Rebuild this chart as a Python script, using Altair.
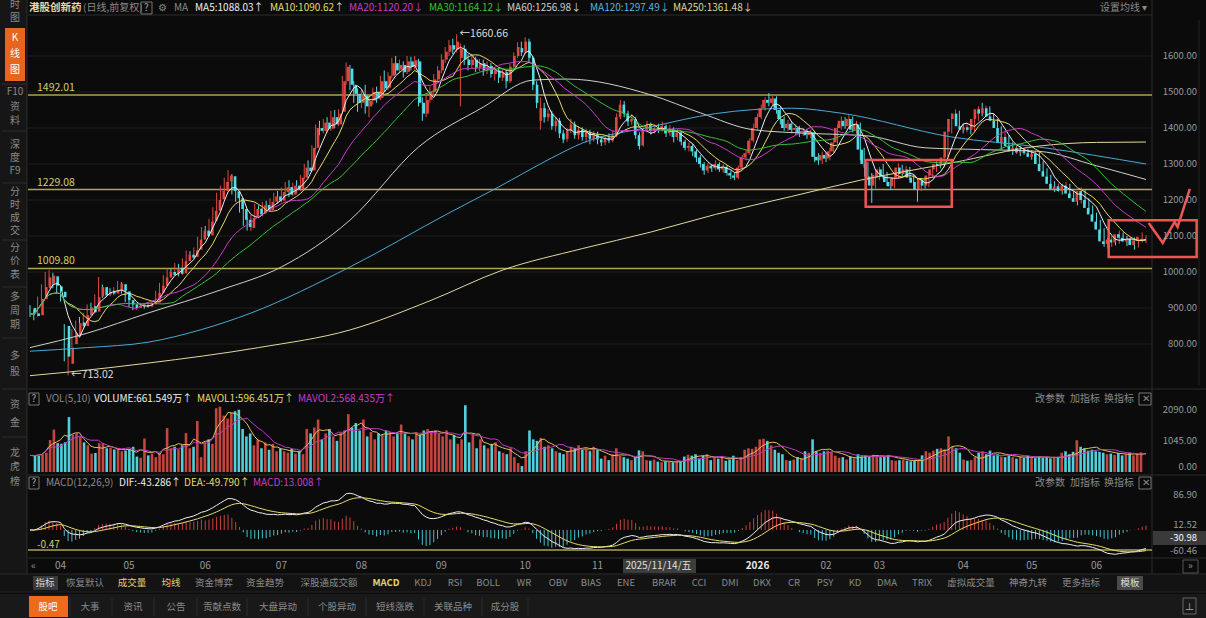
import altair as alt
import numpy as np
import pandas as pd

FONT = "Noto Sans CJK SC"
UP, DN = "#e0483f", "#52dde6"
VUP, VDN = "#c4463f", "#4fd0da"

# ---------------- daily candles ----------------
opens = [
 900, 885, 880, 925, 955, 968, 988, 960, 945, 850,
 745, 800, 825, 860, 850, 880, 905, 890, 932, 958,
 938, 946, 940, 950, 966, 946, 922, 910, 900, 906,
 908, 904, 910, 915, 942, 962, 986, 1000, 994, 1012,
 996, 1030, 1048, 1042, 1062, 1090, 1115, 1102, 1142, 1170,
 1202, 1225, 1252, 1266, 1224, 1205, 1175, 1145, 1122, 1150,
 1176, 1162, 1186, 1172, 1195, 1210, 1198, 1222, 1236, 1215,
 1240, 1230, 1262, 1290, 1282, 1345, 1400, 1392, 1415, 1398,
 1430, 1410, 1445, 1530, 1565, 1520, 1495, 1470, 1490, 1460,
 1476, 1500, 1484, 1530, 1512, 1545, 1580, 1562, 1575, 1556,
 1585, 1570, 1585, 1470, 1440, 1478, 1500, 1535, 1560, 1590,
 1612, 1630, 1618, 1595, 1620, 1590, 1575, 1590, 1568, 1580,
 1560, 1572, 1550, 1560, 1540, 1555, 1530, 1570, 1600, 1622,
 1612, 1640, 1595, 1520, 1420, 1455, 1430, 1440, 1405, 1420,
 1385, 1370, 1392, 1410, 1380, 1395, 1375, 1388, 1370, 1382,
 1368, 1360, 1372, 1365, 1380, 1430, 1465, 1440, 1418, 1425,
 1380, 1352, 1395, 1408, 1392, 1400, 1396, 1405, 1386, 1398,
 1375, 1388, 1362, 1345, 1350, 1335, 1318, 1300, 1282, 1295,
 1288, 1300, 1285, 1292, 1275, 1268, 1262, 1290, 1318, 1330,
 1365, 1400, 1430, 1455, 1478, 1470, 1482, 1450, 1425, 1400,
 1412, 1395, 1400, 1385, 1392, 1380, 1388, 1320, 1310, 1325,
 1315, 1335, 1360, 1400, 1420, 1405, 1425, 1395, 1410, 1340,
 1300, 1265, 1240, 1262, 1285, 1265, 1250, 1238, 1262, 1290,
 1272, 1285, 1262, 1250, 1230, 1256, 1240, 1268, 1285, 1300,
 1296, 1318, 1390, 1425, 1440, 1405, 1395, 1402, 1395, 1425,
 1452, 1440, 1455, 1432, 1420, 1400, 1360, 1375, 1350, 1335,
 1345, 1332, 1338, 1330, 1320, 1328, 1300, 1280, 1265, 1245,
 1230, 1238, 1225, 1240, 1218, 1205, 1195, 1225, 1200, 1178,
 1160, 1140, 1118, 1085, 1078, 1090, 1082, 1105, 1095, 1085,
 1092, 1075, 1088, 1086,
]
highs = [
 908, 896, 932, 966, 1000, 1005, 998, 970, 952, 855,
 800, 842, 865, 875, 886, 910, 915, 938, 986, 965,
 952, 955, 958, 975, 972, 950, 930, 916, 912, 914,
 912, 916, 920, 948, 970, 992, 1010, 1008, 1025, 1022,
 1038, 1060, 1058, 1068, 1098, 1125, 1128, 1148, 1180, 1220,
 1240, 1262, 1283, 1272, 1245, 1212, 1180, 1150, 1158, 1190,
 1185, 1195, 1198, 1205, 1220, 1225, 1235, 1250, 1255, 1248,
 1255, 1270, 1300, 1310, 1352, 1410, 1420, 1425, 1430, 1448,
 1450, 1452, 1545, 1582, 1575, 1530, 1510, 1505, 1520, 1490,
 1512, 1515, 1545, 1560, 1555, 1595, 1600, 1590, 1585, 1600,
 1598, 1600, 1592, 1485, 1490, 1515, 1550, 1572, 1605, 1625,
 1645, 1648, 1660.66, 1635, 1630, 1605, 1600, 1598, 1592, 1590,
 1585, 1580, 1570, 1568, 1565, 1562, 1578, 1610, 1638, 1640,
 1652, 1648, 1600, 1530, 1485, 1470, 1452, 1448, 1430, 1428,
 1395, 1400, 1425, 1418, 1405, 1402, 1398, 1395, 1392, 1390,
 1378, 1380, 1385, 1392, 1440, 1478, 1475, 1448, 1438, 1430,
 1388, 1402, 1420, 1415, 1410, 1412, 1418, 1410, 1408, 1402,
 1395, 1392, 1368, 1360, 1356, 1340, 1325, 1305, 1302, 1300,
 1310, 1305, 1300, 1296, 1282, 1275, 1296, 1325, 1340, 1372,
 1412, 1440, 1465, 1485, 1497, 1492, 1488, 1458, 1432, 1422,
 1418, 1410, 1406, 1400, 1398, 1396, 1392, 1330, 1335, 1332,
 1345, 1372, 1410, 1432, 1430, 1435, 1432, 1420, 1415, 1345,
 1305, 1275, 1282, 1292, 1300, 1278, 1260, 1270, 1302, 1298,
 1295, 1292, 1270, 1258, 1262, 1265, 1275, 1295, 1310, 1312,
 1325, 1398, 1440, 1452, 1448, 1412, 1410, 1408, 1432, 1460,
 1470, 1462, 1460, 1440, 1425, 1405, 1390, 1380, 1360, 1352,
 1350, 1345, 1342, 1338, 1335, 1335, 1308, 1288, 1270, 1252,
 1246, 1245, 1250, 1245, 1225, 1212, 1235, 1230, 1205, 1185,
 1165, 1145, 1122, 1095, 1100, 1098, 1115, 1110, 1100, 1098,
 1096, 1094, 1110, 1102,
]
lows = [
 875, 866, 876, 920, 950, 960, 955, 940, 918, 752,
 713.02, 790, 818, 842, 845, 872, 880, 885, 928, 928,
 930, 934, 935, 945, 940, 916, 902, 894, 895, 900,
 898, 900, 906, 912, 938, 958, 978, 984, 990, 988,
 992, 1025, 1032, 1036, 1058, 1085, 1094, 1098, 1136, 1165,
 1195, 1215, 1240, 1215, 1195, 1165, 1128, 1115, 1114, 1145,
 1150, 1155, 1165, 1168, 1188, 1190, 1194, 1215, 1208, 1210,
 1220, 1225, 1258, 1270, 1278, 1340, 1380, 1385, 1388, 1392,
 1400, 1405, 1440, 1520, 1505, 1470, 1445, 1455, 1440, 1430,
 1465, 1470, 1478, 1500, 1505, 1538, 1548, 1552, 1540, 1550,
 1560, 1562, 1460, 1420, 1430, 1470, 1495, 1528, 1552, 1580,
 1600, 1605, 1610, 1460, 1575, 1560, 1565, 1555, 1558, 1545,
 1550, 1540, 1532, 1525, 1530, 1510, 1525, 1565, 1595, 1600,
 1605, 1580, 1505, 1455, 1395, 1415, 1418, 1395, 1390, 1372,
 1358, 1362, 1385, 1370, 1368, 1365, 1360, 1355, 1362, 1355,
 1350, 1352, 1358, 1360, 1375, 1425, 1430, 1405, 1408, 1370,
 1340, 1348, 1388, 1382, 1385, 1386, 1390, 1375, 1378, 1360,
 1366, 1352, 1338, 1335, 1322, 1305, 1290, 1270, 1275, 1278,
 1282, 1278, 1276, 1268, 1258, 1255, 1258, 1285, 1310, 1325,
 1360, 1395, 1425, 1448, 1460, 1462, 1440, 1410, 1392, 1392,
 1385, 1380, 1375, 1378, 1370, 1372, 1305, 1298, 1300, 1305,
 1310, 1330, 1355, 1395, 1398, 1400, 1388, 1385, 1310, 1290,
 1255, 1192, 1232, 1255, 1258, 1240, 1228, 1232, 1258, 1265,
 1268, 1255, 1240, 1195, 1225, 1232, 1236, 1262, 1278, 1288,
 1290, 1312, 1385, 1410, 1398, 1385, 1388, 1382, 1390, 1420,
 1432, 1435, 1425, 1412, 1392, 1340, 1350, 1340, 1325, 1328,
 1322, 1325, 1320, 1312, 1310, 1290, 1272, 1255, 1235, 1222,
 1222, 1215, 1218, 1208, 1195, 1185, 1190, 1190, 1168, 1150,
 1130, 1108, 1070, 1065, 1070, 1074, 1078, 1085, 1072, 1078,
 1062, 1068, 1082, 1080,
]
closes = [
 885, 878, 925, 958, 985, 990, 962, 948, 930, 765,
 790, 830, 858, 850, 880, 902, 888, 930, 958, 935,
 945, 940, 950, 968, 948, 922, 910, 900, 906, 908,
 904, 910, 914, 942, 962, 985, 1000, 992, 1010, 995,
 1030, 1048, 1040, 1060, 1090, 1115, 1100, 1140, 1170, 1200,
 1225, 1250, 1268, 1225, 1205, 1175, 1145, 1125, 1150, 1175,
 1160, 1185, 1172, 1195, 1210, 1198, 1222, 1235, 1215, 1240,
 1228, 1262, 1290, 1280, 1345, 1400, 1392, 1415, 1398, 1430,
 1410, 1440, 1530, 1570, 1520, 1495, 1470, 1490, 1460, 1475,
 1500, 1482, 1530, 1510, 1545, 1580, 1560, 1575, 1555, 1585,
 1570, 1588, 1470, 1440, 1478, 1500, 1535, 1560, 1590, 1612,
 1630, 1618, 1640, 1620, 1590, 1575, 1590, 1568, 1580, 1560,
 1572, 1550, 1560, 1540, 1555, 1530, 1570, 1600, 1625, 1610,
 1640, 1595, 1520, 1470, 1455, 1430, 1440, 1405, 1420, 1385,
 1368, 1392, 1410, 1380, 1395, 1375, 1388, 1370, 1382, 1368,
 1360, 1372, 1365, 1380, 1430, 1465, 1440, 1418, 1425, 1380,
 1350, 1395, 1408, 1392, 1400, 1395, 1405, 1385, 1398, 1375,
 1388, 1362, 1345, 1350, 1335, 1318, 1300, 1282, 1295, 1288,
 1300, 1285, 1292, 1275, 1268, 1262, 1290, 1318, 1330, 1365,
 1400, 1430, 1455, 1478, 1470, 1482, 1450, 1425, 1400, 1412,
 1395, 1400, 1385, 1392, 1380, 1388, 1320, 1310, 1325, 1315,
 1335, 1360, 1400, 1420, 1405, 1425, 1395, 1410, 1340, 1300,
 1265, 1240, 1270, 1285, 1265, 1250, 1238, 1262, 1290, 1272,
 1285, 1262, 1248, 1230, 1256, 1240, 1268, 1285, 1300, 1296,
 1318, 1390, 1425, 1440, 1405, 1395, 1402, 1395, 1425, 1452,
 1440, 1455, 1432, 1420, 1400, 1360, 1375, 1350, 1335, 1345,
 1332, 1338, 1330, 1320, 1328, 1300, 1280, 1265, 1245, 1230,
 1238, 1225, 1240, 1218, 1205, 1195, 1225, 1200, 1178, 1160,
 1140, 1118, 1085, 1078, 1090, 1082, 1105, 1095, 1085, 1092,
 1075, 1088, 1098, 1092,
]
volumes = [
 560, 540, 600, 650, 1080, 1430, 970, 950, 1000, 1850,
 1250, 1300, 1200, 1000, 900, 620, 640, 970, 980, 800,
 820, 760, 800, 700, 720, 760, 850, 520, 480, 1130,
 560, 620, 500, 640, 600, 1480, 800, 850, 760, 900,
 1310, 800, 850, 1720, 500, 1000, 1100, 950, 2150, 2200,
 1900, 1800, 2000, 2050, 2100, 1450, 1200, 1300, 900, 1100,
 800, 1000, 750, 950, 700, 800, 700, 650, 780, 620,
 700, 600, 1450, 1300, 1500, 1770, 1100, 1300, 1450, 1200,
 1050, 1300, 1400, 1950, 1500, 1650, 1400, 1770, 1200, 1350,
 1100, 1300, 1250, 1400, 1350, 1200, 1300, 1600, 1300, 1200,
 1100, 1350, 1250, 1400, 1450, 1350, 1400, 1300, 1200, 1400,
 1100, 1250, 950, 1100, 2250, 1000, 1250, 800, 1100, 900,
 800, 950, 1000, 700, 650, 600, 800, 500, 300, 200,
 700, 1400, 1100, 1050, 1150, 850, 900, 800, 700, 650,
 600, 700, 850, 800, 900, 750, 800, 700, 850, 750,
 450, 550, 400, 600, 800, 550, 500, 450, 400, 480,
 730, 700, 400, 380, 420, 350, 330, 360, 340, 330,
 360, 350, 520, 580, 550, 600, 450, 550, 600, 400,
 500, 450, 500, 380, 420, 550, 400, 500, 750, 800,
 780, 850, 1100, 1120, 1050, 900, 750, 650, 600, 400,
 380, 420, 500, 450, 700, 650, 1100, 700, 650, 700,
 720, 680, 550, 480, 500, 420, 520, 460, 600, 520,
 560, 520, 580, 540, 500, 520, 560, 400, 380, 400,
 420, 380, 360, 380, 400, 560, 700, 650, 720, 780,
 800, 760, 1200, 850, 800, 650, 420, 380, 400, 500,
 650, 700, 600, 720, 560, 600, 520, 500, 560, 500,
 450, 520, 480, 550, 500, 470, 520, 480, 500, 460,
 520, 500, 650, 700, 600, 680, 1070, 850, 800, 720,
 750, 700, 680, 650, 600, 620, 580, 640, 560, 600,
 650, 560, 620, 662,
]

# long moving averages as drawn (their history starts before the window)
ma60_i = [0, 15, 31, 50, 66, 84, 102, 119, 132, 141, 163, 176, 190, 205, 220, 235, 250, 265, 280, 293]
ma60_v = [790, 830, 886, 950, 1014, 1144, 1347, 1458, 1533, 1536, 1492, 1442, 1395, 1385, 1378, 1345, 1340, 1335, 1295, 1257]
ma120_i = [0, 15, 31, 45, 58, 84, 110, 123, 137, 145, 163, 180, 200, 213, 242, 265, 293]
ma120_v = [780, 790, 805, 840, 886, 1014, 1164, 1236, 1317, 1358, 1403, 1440, 1455, 1441, 1375, 1347, 1300]
ma250_i = [0, 10, 31, 60, 84, 105, 124, 145, 163, 180, 200, 218, 242, 265, 280, 293]
ma250_v = [712, 722, 747, 790, 839, 920, 1005, 1065, 1111, 1160, 1210, 1255, 1303, 1350, 1360, 1361]

month_idx = [8, 26, 46, 66, 87, 108, 130, 149, 209, 223, 245, 263, 280]
month_txt = ["04", "05", "06", "07", "08", "09", "10", "11", "02", "03", "04", "05", "06"]
year_idx, year_txt = 191, "2026"
cursor_idx, cursor_txt = 165, "2025/11/14/五"

level_lines = [1492.01, 1229.08, 1009.80]
price_ticks = [1600, 1500, 1400, 1300, 1200, 1100, 1000, 900, 800]
vol_ticks = [2090.0, 1045.0]
macd_ticks = [86.90, 12.52]
macd_low = -60.46
macd_now = -30.98
macd_ref = -50.0

# hand-drawn annotations (index, price)
box_i0 = [219.4, 283.2]
box_i1 = [242.0, 306.3]
box_p0 = [1311, 1144]
box_p1 = [1181, 1042]
pen_i = [293.7, 297.4, 300.5, 301.3, 304.5]
pen_p = [1136, 1081, 1139, 1125, 1231]

# ---------------- derived ----------------
N = len(closes)
df = pd.DataFrame({"i": range(N), "o": opens, "h": highs, "l": lows, "c": closes, "v": volumes}).astype(float)
df["hi"] = df[["h", "o", "c"]].max(axis=1)
df["lo"] = df[["l", "o", "c"]].min(axis=1)
df["bt"] = df[["o", "c"]].max(axis=1)
df["bb"] = df[["o", "c"]].min(axis=1)
thin = (df["bt"] - df["bb"]) < 3
df.loc[thin, "bt"] += 1.5
df.loc[thin, "bb"] -= 1.5
up = df["c"] >= df["o"]
df["col"] = np.where(up, UP, DN)
df["vcol"] = np.where(up, VUP, VDN)
df["z"] = 0.0
e12 = df["c"].ewm(span=12, adjust=False).mean()
e26 = df["c"].ewm(span=26, adjust=False).mean()
df["dif"] = e12 - e26
df["dea"] = df["dif"].ewm(span=9, adjust=False).mean()
df["mh"] = 2 * (df["dif"] - df["dea"])
df["hcol"] = np.where(df["mh"] >= 0, "#c8433e", "#45c3cf")
df["mv5"] = df["v"].rolling(5, min_periods=1).mean()
df["mv10"] = df["v"].rolling(10, min_periods=1).mean()

ma_cols = {5: "#eeeeee", 10: "#e6dc6a", 20: "#c83cc8", 30: "#38c038"}
ma_short = pd.concat([pd.DataFrame({"i": df["i"], "val": df["c"].rolling(w, min_periods=1).mean(),
                                    "k": f"ma{w}", "cc": col}) for w, col in ma_cols.items()])
ma_long = pd.concat([
    pd.DataFrame({"i": ma60_i, "val": ma60_v, "k": "ma60", "cc": "#cfcfcf"}),
    pd.DataFrame({"i": ma120_i, "val": ma120_v, "k": "ma120", "cc": "#4aa9d6"}),
    pd.DataFrame({"i": ma250_i, "val": ma250_v, "k": "ma250", "cc": "#e2d9a0"}),
])
vol_ma = pd.concat([pd.DataFrame({"i": df["i"], "val": df["mv5"], "k": "a", "cc": "#e0c060"}),
                    pd.DataFrame({"i": df["i"], "val": df["mv10"], "k": "b", "cc": "#c03cc0"})])
macd_lines = pd.concat([pd.DataFrame({"i": df["i"], "val": df["dif"], "k": "dif", "cc": "#eeeeee"}),
                        pd.DataFrame({"i": df["i"], "val": df["dea"], "k": "dea", "cc": "#e6dc6a"})])

# ---------------- scales ----------------
xs = alt.Scale(domain=[0, N - 1], range=[30, 1146], nice=False, zero=False)
ps = alt.Scale(domain=[700, 1700], range=[380, 20], nice=False, zero=False)
vs = alt.Scale(domain=[0, 2090], range=[472, 410], nice=False, zero=False)
ms = alt.Scale(domain=[-60.46, 86.90], range=[554.2, 495.1], nice=False, zero=False)
X = alt.X("i:Q", scale=xs, axis=None)


def Y(field, sc):
    return alt.Y(field, scale=sc, axis=None)


PX = dict(x=alt.X("x:Q", scale=None, axis=None), y=alt.Y("y:Q", scale=None, axis=None))


def texts(rows, size=10, weight="normal", align="left"):
    d = pd.DataFrame(rows, columns=["t", "x", "y", "c"])
    return alt.Chart(d).mark_text(font=FONT, fontSize=size, fontWeight=weight, align=align,
                                  baseline="middle").encode(text="t:N", color=alt.Color("c:N", scale=None), **PX)


def rects(rows):
    d = pd.DataFrame(rows, columns=["x", "x2", "y", "y2", "c"])
    return alt.Chart(d).mark_rect().encode(x2="x2:Q", y2="y2:Q", color=alt.Color("c:N", scale=None), **PX)


def outlines(rows, sw=1):
    d = pd.DataFrame(rows, columns=["x", "x2", "y", "y2", "c"])
    return alt.Chart(d).mark_rect(fillOpacity=0, strokeWidth=sw).encode(
        x2="x2:Q", y2="y2:Q", stroke=alt.Stroke("c:N", scale=None), **PX)


def rules(rows, sw=1):
    d = pd.DataFrame(rows, columns=["x", "x2", "y", "y2", "c"])
    return alt.Chart(d).mark_rule(strokeWidth=sw).encode(
        x2="x2:Q", y2="y2:Q", color=alt.Color("c:N", scale=None), **PX)


layers = []
SEP = "#2c2c2c"
# backgrounds
layers.append(rects([
    (0, 27, 0, 574, "#161616"),
    (5, 25, 28, 81, "#e8651e"),
    (0, 1206, 574, 592, "#131313"),
    (33, 58, 576, 590, "#3a3a3a"),
    (1117, 1143, 576, 590, "#4a4a4a"),
    (0, 1206, 594, 618, "#191919"),
    (29, 68, 596, 617, "#ee6a1f"),
    (623, 696, 559, 573, "#3c3c3c"),
    (1153, 1206, 531, 545, "#3a3a3a"),
]))
# faint grid
grid = pd.DataFrame({"p": price_ticks})
layers.append(alt.Chart(grid).mark_rule(color="#1f1f1f", strokeWidth=1).encode(
    y=Y("p:Q", ps), x=alt.value(28), x2=alt.value(1152)))
# separators
layers.append(rules([
    (28, 1152, 15, 15, SEP), (1152, 1152, 0, 574, SEP), (27, 27, 0, 574, SEP),
    (28, 1206, 389, 389, SEP), (28, 1206, 475, 475, SEP), (28, 1206, 558, 558, SEP),
    (0, 1206, 574, 574, SEP), (0, 1206, 592, 592, "#222222"),
    (1199, 1199, 20, 385, "#232323"),
    (2, 27, 84, 84, SEP), (2, 27, 131, 131, SEP), (2, 27, 183, 183, SEP), (2, 27, 240, 240, SEP),
    (2, 27, 287, 287, SEP), (2, 27, 338, 338, SEP), (2, 27, 389, 389, SEP), (2, 27, 437, 437, SEP),
    (70, 70, 598, 616, SEP), (112, 112, 598, 616, SEP), (154, 154, 598, 616, SEP),
    (197, 197, 598, 616, SEP), (247, 247, 598, 616, SEP), (308, 308, 598, 616, SEP),
    (366, 366, 598, 616, SEP), (424, 424, 598, 616, SEP), (482, 482, 598, 616, SEP),
    (528, 528, 598, 616, SEP),
]))

# price level lines
lv = pd.DataFrame({"p": level_lines, "t": [f"{v:.2f}" for v in level_lines]})
layers.append(alt.Chart(lv).mark_rule(color="#aea452", strokeWidth=1.5).encode(
    y=Y("p:Q", ps), x=alt.value(28), x2=alt.value(1152)))
layers.append(alt.Chart(lv).mark_text(font=FONT, fontSize=10.5, align="left", dy=-7, color="#d6cb6c").encode(
    y=Y("p:Q", ps), x=alt.value(37), text="t:N"))

# candles
layers.append(alt.Chart(df).mark_rule(strokeWidth=1).encode(
    x=X, y=Y("lo:Q", ps), y2="hi:Q", color=alt.Color("col:N", scale=None)))
layers.append(alt.Chart(df).mark_bar(size=2.6).encode(
    x=X, y=Y("bb:Q", ps), y2="bt:Q", color=alt.Color("col:N", scale=None)))
# moving averages
layers.append(alt.Chart(ma_long).mark_line(strokeWidth=1, interpolate="monotone").encode(
    x=X, y=Y("val:Q", ps), detail="k:N", color=alt.Color("cc:N", scale=None)))
layers.append(alt.Chart(ma_short).mark_line(strokeWidth=1).encode(
    x=X, y=Y("val:Q", ps), detail="k:N", color=alt.Color("cc:N", scale=None)))

# extremes labels
imax, imin = int(df["h"].idxmax()), int(df["l"].idxmin())
ext = pd.DataFrame({"i": [imax, imin], "p": [df["h"][imax], df["l"][imin]],
                    "t": [f"←{df['h'][imax]:.2f}", f"←{df['l'][imin]:.2f}"]})
layers.append(alt.Chart(ext).mark_text(font=FONT, fontSize=10.5, align="left", dx=3, color="#dddddd").encode(
    x=X, y=Y("p:Q", ps), text="t:N"))

# annotations
bx = pd.DataFrame({"i0": box_i0, "i1": box_i1, "p0": box_p0, "p1": box_p1})
layers.append(alt.Chart(bx).mark_rect(fillOpacity=0, stroke="#ef5555", strokeWidth=2.5).encode(
    x=alt.X("i0:Q", scale=xs, axis=None), x2="i1:Q", y=Y("p0:Q", ps), y2="p1:Q"))
pen = pd.DataFrame({"i": pen_i, "p": pen_p, "o": range(len(pen_i))})
layers.append(alt.Chart(pen).mark_line(color="#ef5555", strokeWidth=2.5).encode(
    x=alt.X("i:Q", scale=xs, axis=None), y=Y("p:Q", ps), order="o:Q"))

# volume
layers.append(alt.Chart(df).mark_bar(size=2.6).encode(
    x=X, y=Y("v:Q", vs), y2="z:Q", color=alt.Color("vcol:N", scale=None)))
layers.append(alt.Chart(vol_ma).mark_line(strokeWidth=1).encode(
    x=X, y=Y("val:Q", vs), detail="k:N", color=alt.Color("cc:N", scale=None)))

# MACD
layers.append(alt.Chart(pd.DataFrame({"m": [macd_ref]})).mark_rule(color="#aea452", strokeWidth=1.5).encode(
    y=Y("m:Q", ms), x=alt.value(28), x2=alt.value(1152)))
layers.append(alt.Chart(df).mark_rule(strokeWidth=1).encode(
    x=X, y=Y("mh:Q", ms), y2="z:Q", color=alt.Color("hcol:N", scale=None)))
layers.append(alt.Chart(macd_lines).mark_line(strokeWidth=1).encode(
    x=X, y=Y("val:Q", ms), detail="k:N", color=alt.Color("cc:N", scale=None)))

# right axis labels
pt = pd.DataFrame({"p": price_ticks, "t": [f"{v:.2f}" for v in price_ticks]})
layers.append(alt.Chart(pt).mark_text(font=FONT, fontSize=9.5, align="right", color="#9a9a9a").encode(
    y=Y("p:Q", ps), x=alt.value(1197), text="t:N"))
vt = pd.DataFrame({"p": vol_ticks, "t": [f"{v:.2f}" for v in vol_ticks]})
layers.append(alt.Chart(vt).mark_text(font=FONT, fontSize=9.5, align="right", color="#9a9a9a").encode(
    y=Y("p:Q", vs), x=alt.value(1197), text="t:N"))
layers.append(alt.Chart(pd.DataFrame({"p": [0.0], "t": ["0.00"]})).mark_text(
    font=FONT, fontSize=9.5, align="right", dy=-5, color="#9a9a9a").encode(
    y=Y("p:Q", vs), x=alt.value(1197), text="t:N"))
mt = pd.DataFrame({"p": macd_ticks, "t": [f"{v:.2f}" for v in macd_ticks]})
layers.append(alt.Chart(mt).mark_text(font=FONT, fontSize=9.5, align="right", color="#9a9a9a").encode(
    y=Y("p:Q", ms), x=alt.value(1197), text="t:N"))
layers.append(alt.Chart(pd.DataFrame({"p": [macd_low], "t": [f"{macd_low:.2f}"]})).mark_text(
    font=FONT, fontSize=9.5, align="right", dy=-3, color="#9a9a9a").encode(
    y=Y("p:Q", ms), x=alt.value(1197), text="t:N"))
layers.append(alt.Chart(pd.DataFrame({"p": [macd_now], "t": [f"{macd_now:.2f}"]})).mark_text(
    font=FONT, fontSize=9.5, align="right", dy=-4, color="#ffffff").encode(
    y=Y("p:Q", ms), x=alt.value(1197), text="t:N"))

# x axis (months)
mo = pd.DataFrame({"i": month_idx, "t": month_txt})
layers.append(alt.Chart(mo).mark_text(font=FONT, fontSize=10, align="center", color="#9a9a9a").encode(
    x=X, y=alt.value(566), text="t:N"))
layers.append(alt.Chart(pd.DataFrame({"i": [year_idx], "t": [year_txt]})).mark_text(
    font=FONT, fontSize=10, fontWeight="bold", align="center", color="#e8e8e8").encode(
    x=X, y=alt.value(566), text="t:N"))
layers.append(alt.Chart(pd.DataFrame({"i": [cursor_idx], "t": [cursor_txt]})).mark_text(
    font=FONT, fontSize=10, align="center", color="#e0e0e0").encode(
    x=X, y=alt.value(566), text="t:N"))

# ---------------- UI chrome text ----------------
G = "#8a8a8a"
layers.append(texts([("港股创新药", 29, 8, "#e6d9a2")], size=10.5, weight="bold"))
layers.append(texts([
    ("(日线,前复权)", 83, 8, G), ("?", 144, 8, "#aaaaaa"), ("⚙", 158, 8, G), ("MA", 174, 8, G),
    ("MA5:1088.03↑", 195, 8, "#eeeeee"), ("MA10:1090.62↑", 270, 8, "#e6dc6a"),
    ("MA20:1120.20↓", 349, 8, "#c83cc8"), ("MA30:1164.12↓", 429, 8, "#38c038"),
    ("MA60:1256.98↓", 507, 8, "#cfcfcf"), ("MA120:1297.49↓", 590, 8, "#58b4dc"),
    ("MA250:1361.48↓", 673, 8, "#ddd59c"), ("设置均线 ▾", 1100, 8, G),
    ("?", 31.5, 399, "#aaaaaa"), ("VOL(5,10)", 46, 399, G), ("VOLUME:661.549万↑", 94, 399, "#eeeeee"),
    ("MAVOL1:596.451万↑", 197, 399, "#e6dc6a"), ("MAVOL2:568.435万↑", 298, 399, "#c83cc8"),
    ("改参数", 1035, 399, G), ("加指标", 1070, 399, G), ("换指标", 1104, 399, G), ("✕", 1142, 399, G),
    ("?", 31.5, 483, "#aaaaaa"), ("MACD(12,26,9)", 46, 483, G), ("DIF:-43.286↑", 119, 483, "#eeeeee"),
    ("DEA:-49.790↑", 184, 483, "#e6dc6a"), ("MACD:13.008↑", 253, 483, "#c83cc8"),
    ("改参数", 1035, 483, G), ("加指标", 1070, 483, G), ("换指标", 1104, 483, G), ("✕", 1142, 483, G),
    ("-0.47", 37, 545, "#d6cb6c"), ("«", 31, 566, G), ("»", 1188, 566, G),
], size=10))
layers.append(outlines([
    (141, 152, 2, 14, "#777777"), (29, 39, 393, 405, "#777777"), (29, 39, 477, 489, "#777777"),
    (1139, 1151, 393, 405, "#777777"), (1139, 1151, 477, 489, "#777777"), (1183, 1198, 560, 573, "#555555"),
    (1183, 1196, 598, 614, "#666666"),
]))
# sidebar
side = [("时", 5, G), ("图", 18, G), ("K", 38, "#ffffff"), ("线", 54, "#ffffff"), ("图", 70, "#ffffff"),
        ("F10", 92, G), ("资", 107, G), ("料", 121, G), ("深", 145, G), ("度", 158, G), ("F9", 171, G),
        ("分", 192, G), ("时", 205, G), ("成", 218, G), ("交", 231, G), ("分", 248, G), ("价", 261, G),
        ("表", 275, G), ("多", 297, G), ("周", 311, G), ("期", 325, G), ("多", 356, G), ("股", 372, G),
        ("资", 405, G), ("金", 423, G), ("龙", 453, G), ("虎", 467, G), ("榜", 482, G)]
layers.append(texts([(t, 15, y, c) for t, y, c in side], size=10, align="center"))
# indicator buttons
Y1 = "#e6d270"
btn = [("指标", 45, "#d8d8d8"), ("恢复默认", 85, G), ("成交量", 132, Y1), ("均线", 171, Y1),
       ("资金博弈", 214, G), ("资金趋势", 265, G), ("深股通成交额", 329, G), ("KDJ", 423, G),
       ("RSI", 455, G), ("BOLL", 488, G), ("WR", 524, G), ("OBV", 558, G), ("BIAS", 591, G), ("ENE", 626, G),
       ("BRAR", 664, G), ("CCI", 699, G), ("DMI", 730, G), ("DKX", 762, G), ("CR", 794, G), ("PSY", 825, G),
       ("KD", 855, G), ("DMA", 887, G), ("TRIX", 922, G), ("虚拟成交量", 971, G), ("神奇九转", 1028, G),
       ("更多指标", 1081, G), ("模板", 1130, "#dddddd")]
layers.append(texts([(t, x, 583, c) for t, x, c in btn], size=9.5, align="center"))
layers.append(texts([("MACD", 386, 583, Y1)], size=9.5, weight="bold", align="center"))
tabs = [("股吧", 48, "#ffffff"), ("大事", 90, G), ("资讯", 133, G), ("公告", 176, G), ("贡献点数", 222, G),
        ("大盘异动", 278, G), ("个股异动", 337, G), ("短线涨跌", 395, G), ("关联品种", 453, G), ("成分股", 505, G),
        ("⊥", 1189.5, "#aaaaaa")]
layers.append(texts([(t, x, 607, c) for t, x, c in tabs], size=9.5, align="center"))

chart = alt.layer(*layers).resolve_scale(x="independent", y="independent").properties(
    width=1206, height=618, background="#0b0b0b", padding=0,
    autosize=alt.AutoSizeParams(type="none"),
).configure_view(stroke=None)

chart.save("out.html", embed_options={"renderer": "svg", "actions": False})
